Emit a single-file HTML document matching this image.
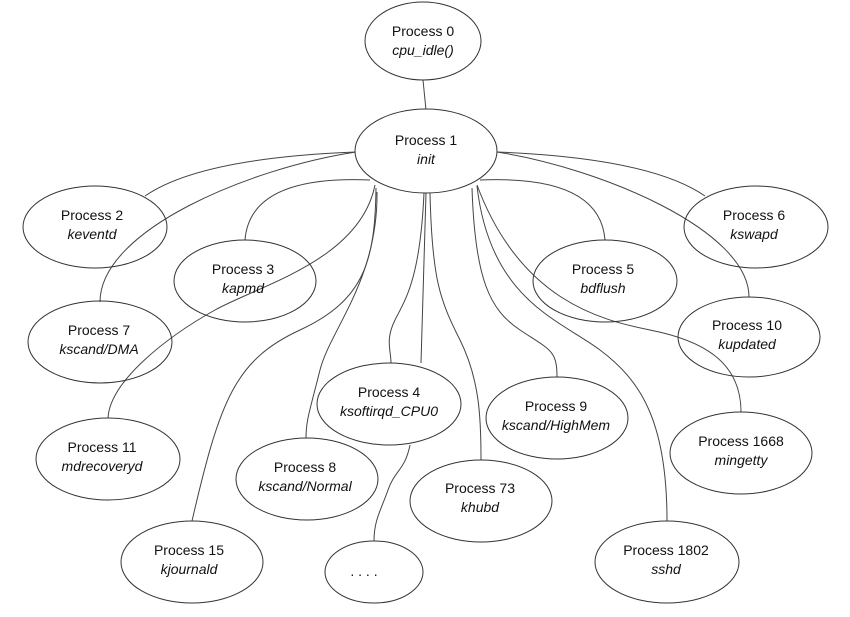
<!DOCTYPE html>
<html><head><meta charset="utf-8"><style>
body{margin:0;background:#fff}
svg{display:block}
text{font-family:"Liberation Sans",Arial,sans-serif;font-size:14px;fill:#111;text-anchor:middle}
.i{font-style:italic}
</style></head><body>
<svg width="850" height="617" viewBox="0 0 850 617">
<g fill="none" stroke="#444" stroke-width="1">
<path d="M423,80 L426,110"/>
<path d="M356,152 Q200,158 145,196"/>
<path d="M356,152 C250,168 100,230 100,302"/>
<path d="M370,180 Q250,175 245,240"/>
<path d="M375,185 C360,260 260,285 215,310 S110,380 108,418"/>
<path d="M376,188 C375,260 365,300 300,330 S220,400 192,521"/>
<path d="M377,192 C378,280 330,330 320,370 S306,420 306,438"/>
<path d="M424,193 C420,280 405,300 395,320 S391,350 391,363"/>
<path d="M426,193 L421,363"/>
<path d="M430,193 C432,280 440,300 460,340 S481,420 481,460"/>
<path d="M472,188 C475,280 490,310 520,330 S557,350 557,377"/>
<path d="M477,186 C490,300 560,320 600,350 S667,420 667,521"/>
<path d="M497,152 Q650,158 705,196"/>
<path d="M497,152 C600,168 749,230 749,297"/>
<path d="M480,180 Q600,175 605,240"/>
<path d="M477,185 C520,300 600,320 650,330 S741,360 741,412"/>
<path d="M410,445 C405,470 395,470 388,490 S374,520 374,541"/>
</g>
<g fill="#fff" stroke="#333" stroke-width="1">
<ellipse cx="423" cy="41" rx="58" ry="39"/>
<ellipse cx="426" cy="151" rx="71" ry="42"/>
<ellipse cx="95" cy="227" rx="72" ry="41" fill="none"/>
<ellipse cx="245" cy="281" rx="71" ry="41" fill="none"/>
<ellipse cx="605" cy="281" rx="72" ry="41" fill="none"/>
<ellipse cx="756" cy="227" rx="72" ry="41" fill="none"/>
<ellipse cx="100" cy="342" rx="72" ry="41" fill="none"/>
<ellipse cx="749" cy="337" rx="71" ry="40" fill="none"/>
<ellipse cx="389" cy="404" rx="72" ry="41"/>
<ellipse cx="557" cy="418" rx="71" ry="41"/>
<ellipse cx="108" cy="459" rx="72" ry="41"/>
<ellipse cx="741" cy="453" rx="71" ry="41"/>
<ellipse cx="307" cy="479" rx="71" ry="41"/>
<ellipse cx="481" cy="501" rx="71" ry="41"/>
<ellipse cx="192" cy="562" rx="71" ry="41"/>
<ellipse cx="374" cy="572" rx="49" ry="31"/>
<ellipse cx="667" cy="562" rx="72" ry="41"/>
</g>
<text x="423" y="36">Process 0</text><text class="i" x="423" y="55">cpu_idle()</text>
<text x="426" y="145">Process 1</text><text class="i" x="426" y="164">init</text>
<text x="92" y="220">Process 2</text><text class="i" x="92" y="239">keventd</text>
<text x="243" y="274">Process 3</text><text class="i" x="243" y="293">kapmd</text>
<text x="603" y="274">Process 5</text><text class="i" x="603" y="293">bdflush</text>
<text x="754" y="220">Process 6</text><text class="i" x="754" y="239">kswapd</text>
<text x="99" y="335">Process 7</text><text class="i" x="99" y="354">kscand/DMA</text>
<text x="747" y="330">Process 10</text><text class="i" x="747" y="349">kupdated</text>
<text x="389" y="397">Process 4</text><text class="i" x="389" y="416">ksoftirqd_CPU0</text>
<text x="556" y="411">Process 9</text><text class="i" x="556" y="430">kscand/HighMem</text>
<text x="102" y="452">Process 11</text><text class="i" x="102" y="471">mdrecoveryd</text>
<text x="741" y="446">Process 1668</text><text class="i" x="741" y="465">mingetty</text>
<text x="305" y="472">Process 8</text><text class="i" x="305" y="491">kscand/Normal</text>
<text x="480" y="493">Process 73</text><text class="i" x="480" y="512">khubd</text>
<text x="189" y="555">Process 15</text><text class="i" x="189" y="574">kjournald</text>
<text x="364" y="576">. . . .</text>
<text x="666" y="555">Process 1802</text><text class="i" x="666" y="574">sshd</text>
</svg>
</body></html>
